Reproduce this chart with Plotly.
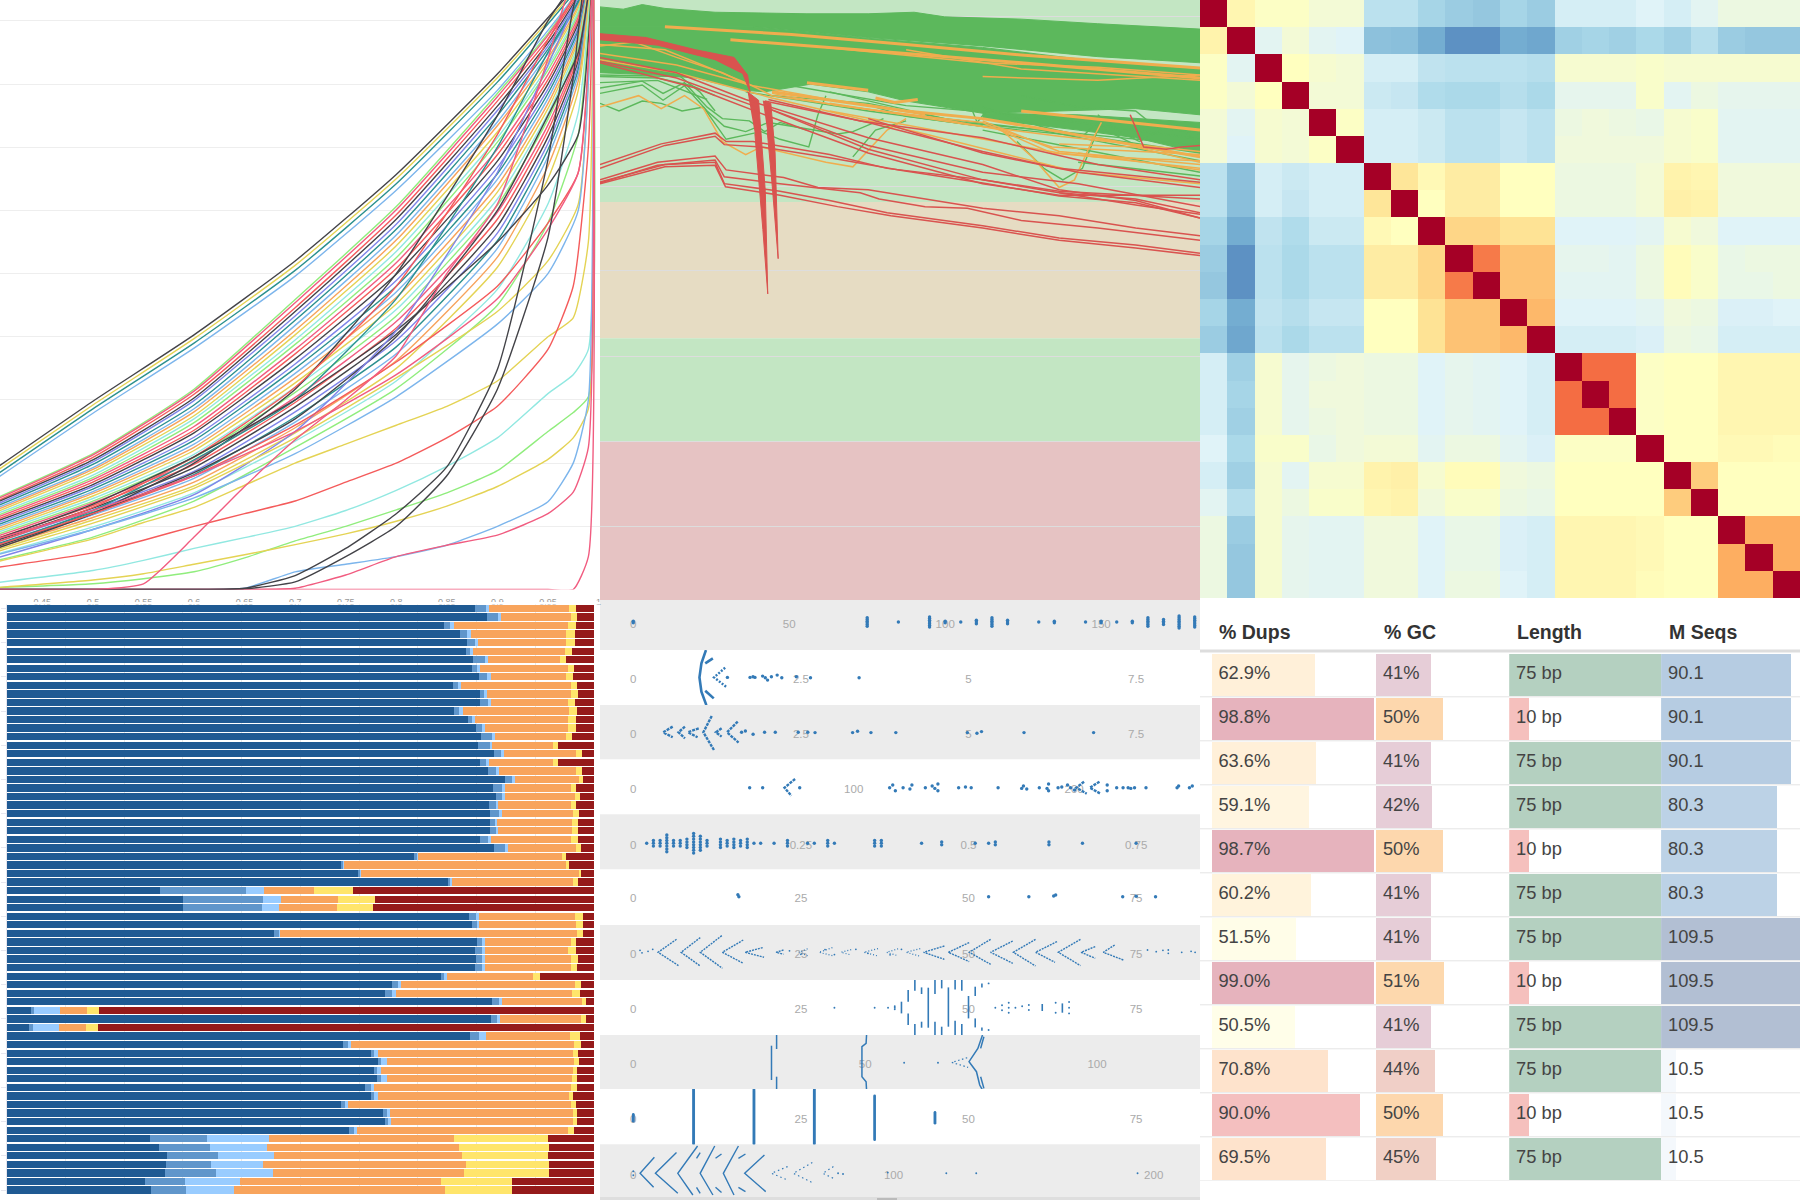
import numpy as np
import plotly.graph_objects as go

W, H = 1800, 1200
HC = ["#7cb5ec", "#434348", "#90ed7d", "#f7a35c", "#8085e9", "#f15c80", "#e4d354", "#2b908f", "#f45b5b", "#91e8e1"]

# ---------- panel 1: duplication curves ----------
curve_x = [0.405, 0.5, 0.6, 0.7, 0.8, 0.9, 0.95, 0.98, 0.995]
top_curves = [
    ("#434348", [19.3, 29.8, 40.3, 52, 65.7, 81.6, 90.5, 96, 100]),
    ("#e4d354", [18.8, 29.2, 39.7, 51.3, 65, 81, 90, 95.6, 100]),
    ("#2b908f", [18.2, 28.6, 39, 50.5, 64.2, 80.3, 89.5, 95.3, 100]),
    ("#7cb5ec", [17.6, 27.9, 38.2, 49.6, 63.2, 79, 88.5, 94.8, 100]),
]
bundle_curves = [
    [14.5, 21.5, 31.7, 45.9, 60.6, 78.5, 88, 95, 100], [14.3, 21.3, 31.4, 45.4, 60.1, 78, 87.7, 94.8, 100],
    [14.0, 20.9, 30.9, 44.6, 59.3, 77.3, 87.1, 94.4, 100], [13.8, 20.5, 30.3, 44, 58.6, 76.5, 86.5, 94, 100],
    [13.5, 20.2, 29.9, 43.3, 57.8, 75.8, 86, 93.7, 100], [13.2, 19.8, 29.2, 42.6, 57, 75, 85.5, 93.2, 100],
    [12.9, 19.3, 28.6, 41.8, 56.1, 74, 84.8, 92.8, 100], [12.6, 19, 28.1, 41, 55.3, 73.4, 84.1, 92.4, 100],
    [12.3, 18.6, 27.5, 40.3, 54.4, 72.4, 83.5, 92, 100], [12, 18.1, 27, 39.5, 53.5, 71.5, 82.8, 91.5, 100],
    [11.7, 17.7, 26.4, 38.8, 52.5, 70.8, 82.2, 91.1, 100], [11.4, 17.4, 25.8, 38, 51.7, 69.7, 81.5, 90.6, 100],
    [11.1, 17, 25.2, 37.3, 50.8, 68.8, 80.7, 90.1, 100], [10.8, 16.6, 24.8, 36.5, 49.9, 67.8, 80, 89.6, 100],
    [10.5, 16.3, 24.1, 35.7, 48.9, 66.8, 79.2, 89, 100], [10.2, 15.9, 23.6, 35, 48, 65.8, 78.5, 88.5, 100],
    [9.9, 15.5, 23, 34.2, 47.1, 64.9, 77.7, 88, 100], [9.6, 15.2, 22.5, 33.5, 46.2, 63.9, 76.9, 87.4, 100],
    [9.3, 14.8, 22, 32.7, 45.2, 62.9, 76.1, 86.9, 100], [9, 14.4, 21.4, 32, 44.3, 61.8, 75.3, 86.3, 100],
    [8.7, 14, 20.9, 31.2, 43.3, 60.8, 74.4, 85.7, 100], [8.4, 13.7, 20.3, 30.4, 42.4, 59.7, 73.5, 85, 100],
    [8.1, 13.3, 19.8, 29.6, 41.4, 58.6, 72.6, 84.4, 100], [7.8, 12.9, 19.3, 28.9, 40.4, 57.5, 71.6, 83.7, 100],
    [7.5, 12.6, 18.7, 28.1, 39.4, 56.4, 70.6, 83, 100], [7.2, 12.2, 18.2, 27.3, 38.4, 55.2, 69.6, 82.3, 100],
    [6.9, 11.8, 17.6, 26.5, 37.3, 54, 68.5, 81.5, 100], [6.6, 11.4, 17, 25.6, 36.2, 52.6, 67, 80.5, 100],
    [6.3, 11, 16.4, 24.8, 35, 51, 65, 79, 100], [5.6, 9.9, 15.3, 23.5, 33, 47.5, 61, 75.5, 100],
    [4.6, 8.3, 14, 22.5, 31.8, 45, 58, 72, 100],
]
cross_curves = [
    ("#434348", [6.5, 12, 20, 31.7, 50, 75, 90, 97, 100]), ("#2b908f", [7, 12.5, 20.5, 30, 46, 70, 85, 93, 100]),
    ("#f45b5b", [7.5, 13, 21, 32, 48, 72, 87, 95, 100]), ("#434348", [6.8, 12, 18.5, 27, 40, 60, 75, 85, 100]),
    ("#434348", [8, 13.5, 21, 30, 41, 55, 64, 72, 100]), ("#8085e9", [5, 9.5, 15, 25, 41, 66, 83, 94, 100]),
    ("#f45b5b", [7, 12, 18, 26, 36, 48, 58, 66, 100]), ("#e4d354", [6, 10.5, 16, 24, 33.5, 44, 52, 61, 100]),
    ("#7cb5ec", [5.5, 9.5, 14.5, 21.5, 30.5, 42, 50, 60, 100]), ("#f15c80", [8, 12.5, 18, 25, 34, 46, 57, 66, 100]),
]
low_x = [0.405, 0.5, 0.55, 0.6, 0.65, 0.7, 0.75, 0.8, 0.85, 0.9, 0.95, 0.975, 0.99, 0.995]
low_curves = [
    ("#e4d354", [4.4, 8, 10.6, 13, 16.5, 20, 23, 26, 29, 33, 40, 43, 55, 100]),
    ("#f45b5b", [3.5, 5.8, 7.8, 10, 12, 14, 17, 20, 24, 29, 38, 48, 70, 100]),
    ("#91e8e1", [1.1, 3, 4.6, 6.5, 8.2, 10, 12.5, 15.7, 19.5, 24, 31, 34, 38, 100]),
    ("#90ed7d", [0.3, 0.9, 1.7, 2.8, 5, 7.7, 10, 12.6, 15.3, 18.8, 25, 28, 30.5, 100]),
    ("#e4d354", [0.3, 1.5, 2.5, 4, 5.5, 7.1, 8.8, 10.8, 13.2, 16.3, 20.6, 24, 28.6, 100]),
    ("#7cb5ec", [0, 0, 0, 0, 0.2, 2.8, 4, 5.2, 7, 10, 13.9, 20, 30, 100]),
    ("#f15c80", [0, 0, 0, 0, 0, 0.2, 2.3, 5.2, 7, 8.6, 12, 15.4, 22.5, 100]),
    ("#f15c80", [0, 0, 0, 0, 0, 0, 0, 0, 0, 0, 0, 0, 5.2, 100]),
    ("#434348", [0, 0, 0, 0, 0.2, 2.2, 6.5, 12, 19.4, 34.8, 68, 92, 100, 100]),
    ("#434348", [0, 0, 0, 0, 0.1, 1.2, 5.2, 10, 18, 31.7, 55.7, 81, 100, 100]),
    ("#f15c80", [0, 0, 0.9, 8.3, 16.3, 23.7, 30, 37, 50, 61, 84, 97, 100, 100]),
]
curve_ticks = [0.45, 0.5, 0.55, 0.6, 0.65, 0.7, 0.75, 0.8, 0.85, 0.9, 0.95, 1]
curve_ticktext = ["0.45", "0.5", "0.55", "0.6", "0.65", "0.7", "0.75", "0.8", "0.85", "0.9", "0.95", "1"]

# ---------- panel 2: quality lines ----------
green_masses = [
    ([0, 3.8, 6.9, 10.6, 18.8, 33.8, 43.8, 51.3, 56.3, 68.8, 81.3, 98, 98, 81.3, 62.5, 43.8, 25, 0],
     [39.55, 39.4, 39.7, 39.45, 39.2, 39.1, 39.1, 39.2, 38.9, 38.75, 38.45, 38.1, 35.9, 36.3, 37, 37.55, 38.25, 38.25]),
    ([0, 25, 43.8, 62.5, 81.3, 98, 98, 87.5, 75, 62.5, 50, 43.8, 34.4, 26.9, 23.8, 15.6, 9.4, 0],
     [38.25, 38.25, 37.5, 36.9, 36, 35.5, 32.5, 32.9, 32.75, 32.6, 33.4, 34, 34.5, 34, 34.1, 34.9, 35.1, 35.25]),
    ([62.5, 78.1, 98, 98, 87.5, 78.1, 62.5], [32.6, 32.5, 32, 30, 31, 31.5, 32.25]),
]
green_lines = [
    ([0, 6.9, 10.3, 13.8, 17.5, 20, 24.4, 26.9, 29.4, 33.8], [34.25, 34.7, 33.9, 34.6, 33, 32.25, 32.1, 31.4, 32, 31.5]),
    ([0, 6.9, 10.3, 13.8, 17.5, 20.3, 23.8, 27.5, 31.3, 38.8, 41.3, 46.3], [33.9, 34.45, 33.45, 34.4, 32.75, 31.75, 31.4, 32, 31.75, 31.25, 31.4, 32.25]),
    ([0, 3.1, 6.9, 10, 13.4, 16.9, 20.6, 26.3, 29.4, 34.1, 35.6, 36.9], [33.25, 32.75, 33.4, 33.25, 32.75, 33, 30.9, 31.4, 30.9, 30.4, 32.5, 33.75]),
    ([0, 13.1, 16.3, 18.8], [35.1, 35, 34, 32.75]),
    ([41.3, 45, 50], [29.75, 31.5, 32.1]),
    ([68.1, 72.5, 75.6, 78.8, 81.3, 82.5], [30.75, 29, 28.25, 29, 31.5, 32.25]),
    ([60.6, 61.6, 63.1], [33, 32, 32.75]),
    ([81.3, 88.1, 98], [31.75, 30.4, 29.75]),
    ([0, 9.4, 17.5], [34.6, 34.75, 33.5]),
    ([62.5, 98], [31.5, 28.75]),
    ([78.1, 98], [29.4, 28.5]),
    ([23.8, 43.8, 62.5, 81.3, 98], [34, 32.75, 31.75, 31, 30]),
    ([28.1, 43.8, 59.4, 75, 98], [33.75, 33.25, 32, 31.4, 30.5]),
    ([31.3, 50, 68.8, 98], [34.4, 33.1, 32.5, 30.9]),
    ([37.5, 56.3, 71.9, 98], [34, 32.25, 31.5, 29.5]),
    ([45, 50, 62.5], [33, 32.4, 31.75]),
    ([68.8, 78.1, 87.5, 90.6, 98], [33.75, 33, 32.75, 31.75, 31.25]),
    ([81.3, 84.4, 88.1, 93.8, 98], [32.5, 31.5, 30.75, 32, 30.5]),
    ([62.5, 71.9, 78.8, 81.3], [33, 31.75, 31.1, 32]),
    ([0, 9.4, 15, 18.8], [35, 34.9, 34.4, 33.75]),
]
orange_lines_thick = [
    ([10.6, 31.3, 50, 68.8, 98], [38.25, 37.75, 37.1, 36.4, 35.55]),
    ([21.3, 35, 50, 68.8, 98], [37.4, 36.95, 36.5, 35.9, 34.9]),
    ([33.8, 43.8], [34.6, 34.1]),
    ([45, 48.1, 51.9], [33.6, 33.3, 33.5]),
    ([28.1, 50, 62.5, 75, 98], [34, 32.75, 32.25, 31.4, 29.75]),
    ([68.8, 98], [32.75, 31.5]),
]
orange_lines = [
    ([36.9, 62.5, 81.3, 98], [36.9, 35.9, 35.6, 35.1]),
    ([0, 10.6, 23.8, 28.1, 50, 62.5, 73.8, 81.3, 98], [37.1, 36.75, 34.6, 33.75, 32.5, 32, 30, 29.75, 29.5]),
    ([0, 12.5, 28.1, 53.1, 78.1, 98], [36.1, 35.25, 33.6, 31.25, 28.75, 28]),
    ([0, 6.3, 10, 13.8, 16.9, 20, 23.8, 26.3, 36.9, 41.3, 46.9, 50], [33, 33.75, 32.9, 33.75, 32.9, 30.75, 29.9, 30.4, 29.4, 29.1, 31.5, 32.25]),
    ([65.6, 70.6, 75, 77.5, 80.6, 81.9], [31.5, 29.75, 27.75, 28.25, 31, 32]),
    ([37.5, 75, 98], [32.75, 30, 29]),
    ([62.5, 75, 98], [32.1, 30.1, 29.25]),
    ([0, 12.5, 25, 37.5, 53.1], [36.5, 35.75, 34.4, 33.5, 32.5]),
    ([78.1, 98], [30, 28.9]),
    ([0, 5.6, 12.5, 20, 24.4], [37, 37.25, 36.25, 35.25, 34.4]),
    ([28.1, 38.8, 53.1, 65.6, 73.8, 98], [33.9, 33.1, 32.4, 31.5, 30.4, 29.9]),
    ([75, 87.5, 98], [30.6, 30.4, 29.4]),
    ([50, 68.8, 98], [36.75, 35.5, 34.75]),
    ([62.5, 81.3, 98], [35, 34.75, 35.1]),
    ([37.5, 59.4, 75, 98], [33.25, 31.9, 31.1, 30.1]),
]
red_lines = [
    ([0, 10, 18.8, 20.6, 25, 37.5, 46.9, 62.5, 75, 87.5, 98], [29.25, 30.6, 31.3, 30.75, 30.75, 29.9, 29, 28.25, 27.4, 27, 26.1]),
    ([0, 10.6, 18.8, 20.3, 26.3, 37.5, 48.8, 62.5, 75, 87.5, 98], [29, 30.5, 31.1, 30.55, 30.4, 29.7, 28.9, 28.05, 27.2, 26.75, 25.75]),
    ([0, 9.4, 18.8, 20.6, 30, 35.6, 43.8, 53.1, 62.5, 75, 87.5, 98], [28.25, 29.4, 29.8, 28.9, 28.4, 27.75, 27.6, 27, 26.4, 25.9, 25.1, 24.6]),
    ([0, 9.4, 18.8, 20.3, 29.4, 42.5, 45.6, 53.1, 60, 68.8, 81.3, 98], [28.05, 29.2, 29.55, 28.45, 28, 27.4, 27, 26.5, 26.4, 25.6, 25.1, 24.3]),
    ([0, 10.6, 18.8, 20.3, 29.4, 37.5, 46.9, 62.5, 75, 87.5, 98], [28.1, 29.25, 29.4, 28, 27.5, 26.9, 26.1, 25.25, 24.45, 24, 23.45]),
    ([0, 10.6, 18.8, 20.5, 29.4, 38.8, 47.5, 62.5, 75, 87.5, 98], [28, 29.1, 29.2, 27.8, 27.25, 26.5, 25.9, 25.1, 24.3, 23.8, 23.3]),
    ([0, 12.5, 23.8, 43.8, 62.5, 75, 87.5, 98], [36.25, 35.25, 33.5, 31, 29.25, 27.6, 26.9, 25.75]),
    ([0, 15.6, 26.9, 43.8, 62.5, 75, 98], [35.9, 34.25, 32.5, 30, 28, 27.25, 27.25]),
    ([27.5, 42.5, 62.5, 81.3, 98], [33.5, 32.1, 31, 29.25, 28.25]),
    ([26.9, 43.8, 62.5, 78.1, 98], [33, 30.5, 28.75, 28, 26.5]),
    ([43.8, 62.5, 78.1, 98], [32.25, 30, 28.75, 27.75]),
    ([86.6, 88.8, 92.5, 95, 98], [32.5, 30.4, 30.25, 30.4, 30.5]),
    ([26.9, 43.8, 62.5, 75, 98], [33.4, 32, 30.1, 29, 28.1]),
    ([27.5, 43.8, 62.5, 75, 98], [32.9, 30.25, 28.25, 27.5, 27]),
    ([0, 12.5, 25], [36, 34.9, 33.1]),
    ([75, 87.5, 98], [27.4, 26.6, 26]),
]
red_masses = [
    ([0, 7.5, 15.6, 21.9, 24.1, 24.5, 23.3, 18.8, 9.4, 0], [37.8, 37.55, 36.75, 36.25, 35.1, 34, 35.2, 36.1, 37.05, 37.4]),
    ([24.1, 25.9, 27, 27.4, 26.6, 25.3], [34, 33.45, 27.5, 20.8, 25, 31.25]),
    ([26.6, 27.9, 28.6, 29.1, 28.1, 27.3], [33.4, 33.25, 30, 23.1, 28, 31.5]),
]
quality_grid = [38.95, 27.83, 22.33, 16.73, 11.15, 5.63]
quality_bands = [(40, 26.8, "#c3e6c3"), (26.8, 17.9, "#e6dcc3"), (17.9, 11.125, "#c3e6c3"), (11.125, 0.8, "#e6c3c3")]

# ---------- panel 3: correlation heatmap ----------
corr = [
    [1, .53, .49, .49, .46, .46, .33, .33, .29, .27, .26, .29, .27, .38, .38, .38, .4, .38, .41, .44, .44, .44],
    [.54, 1, .41, .46, .41, .40, .245, .24, .2, .15, .15, .2, .19, .28, .29, .28, .3, .28, .32, .27, .26, .26],
    [.49, .41, 1, .5, .47, .46, .38, .38, .34, .33, .33, .33, .32, .47, .47, .47, .48, .47, .47, .47, .47, .47],
    [.49, .46, .5, 1, .46, .46, .36, .35, .31, .3, .3, .32, .3, .42, .42, .42, .48, .41, .44, .42, .42, .42],
    [.46, .41, .47, .46, 1, .49, .38, .38, .36, .33, .33, .35, .33, .44, .45, .44, .43, .47, .48, .41, .41, .41],
    [.46, .40, .47, .46, .49, 1, .38, .38, .36, .33, .33, .35, .33, .45, .45, .45, .45, .47, .48, .41, .41, .41],
    [.33, .245, .38, .36, .38, .38, 1, .58, .52, .56, .56, .5, .5, .44, .44, .44, .46, .54, .53, .45, .45, .45],
    [.33, .24, .38, .35, .38, .38, .58, 1, .5, .56, .56, .5, .5, .44, .44, .44, .46, .55, .54, .45, .45, .45],
    [.29, .2, .34, .31, .36, .36, .52, .5, 1, .62, .62, .59, .59, .4, .4, .4, .41, .47, .45, .4, .4, .4],
    [.27, .15, .33, .3, .33, .33, .56, .56, .62, 1, .78, .66, .66, .42, .42, .41, .44, .51, .48, .43, .44, .44],
    [.26, .15, .33, .3, .33, .33, .56, .56, .62, .78, 1, .66, .66, .41, .41, .41, .44, .51, .48, .43, .43, .44],
    [.29, .2, .34, .32, .35, .35, .5, .5, .59, .66, .66, 1, .68, .4, .4, .4, .41, .45, .44, .39, .39, .4],
    [.27, .19, .33, .3, .33, .33, .5, .5, .59, .66, .66, .68, 1, .38, .38, .38, .39, .44, .43, .38, .38, .38],
    [.38, .28, .47, .42, .44, .45, .44, .44, .4, .42, .41, .4, .38, 1, .8, .8, .49, .5, .5, .53, .53, .53],
    [.38, .29, .47, .42, .45, .45, .44, .44, .4, .42, .41, .4, .38, .8, 1, .8, .49, .5, .5, .53, .53, .53],
    [.38, .28, .47, .42, .44, .45, .44, .44, .4, .42, .41, .4, .38, .8, .8, 1, .49, .5, .5, .53, .53, .53],
    [.4, .3, .48, .48, .43, .45, .46, .46, .41, .44, .44, .41, .39, .49, .49, .49, 1, .5, .5, .52, .52, .51],
    [.38, .28, .47, .41, .47, .47, .54, .55, .47, .51, .51, .45, .44, .5, .5, .5, .5, 1, .64, .5, .5, .5],
    [.41, .32, .47, .44, .48, .48, .53, .54, .45, .48, .48, .44, .43, .5, .5, .5, .5, .64, 1, .5, .5, .5],
    [.44, .27, .47, .42, .41, .41, .45, .45, .4, .43, .43, .39, .38, .53, .53, .53, .52, .5, .5, 1, .7, .7],
    [.44, .26, .47, .42, .41, .41, .45, .45, .4, .43, .43, .39, .38, .53, .53, .53, .52, .5, .5, .7, 1, .7],
    [.44, .26, .47, .42, .41, .41, .45, .45, .4, .44, .44, .4, .38, .53, .53, .53, .51, .5, .5, .7, .7, 1],
]
rdylbu = [[0, "#313695"], [.1, "#4575b4"], [.2, "#74add1"], [.3, "#abd9e9"], [.4, "#e0f3f8"], [.5, "#ffffbf"],
          [.6, "#fee090"], [.7, "#fdae61"], [.8, "#f46d43"], [.9, "#d73027"], [1, "#a50026"]]

# ---------- panel 4: stacked percentage bars (running totals per sample) ----------
stack_names = ["Unique", "Dup low", "Dup mid", "Multi low", "Multi mid", "Unmapped"]
stack_colors = ["#1f5a93", "#6096cb", "#99ccff", "#f8a45c", "#ffe56b", "#951a1a"]
stack_totals = [
    [79.7, 81.6, 82.1, 95.8, 96.9], [81.8, 83.7, 84.2, 96.1, 97.1], [74.5, 75.5, 76.1, 95.5, 96.9], [77.2, 78.4, 79.1, 95.3, 96.8],
    [78.3, 79.7, 80.3, 95.3, 96.7], [78.2, 78.9, 79.4, 95.1, 96.2], [79.4, 81.4, 82.0, 94.2, 95.3], [79.2, 80.1, 80.6, 95.5, 96.6],
    [80.4, 81.8, 82.5, 95.3, 96.4], [76.0, 76.9, 77.4, 96.0, 97.1], [80.6, 81.3, 81.8, 96.1, 97.3], [80.6, 81.9, 82.5, 95.6, 96.7],
    [76.2, 77.1, 77.7, 95.8, 97.1], [78.6, 79.2, 79.7, 95.5, 96.9], [79.9, 80.9, 81.4, 95.6, 96.9], [80.7, 82.6, 83.1, 95.2, 96.2],
    [80.3, 82.3, 82.7, 93.0, 93.9], [82.9, 84.2, 84.7, 96.9, 97.9], [80.6, 81.6, 82.1, 93.0, 93.8], [82.0, 83.3, 83.8, 96.9, 97.9],
    [84.9, 86.1, 86.6, 97.5, 98.2], [82.8, 84.3, 84.8, 96.1, 96.9], [83.4, 84.4, 84.8, 96.7, 97.6], [82.1, 83.4, 83.7, 96.1, 96.9],
    [82.3, 83.8, 84.3, 96.5, 97.5], [82.3, 83.1, 83.5, 96.3, 97.3], [82.3, 83.3, 83.7, 96.3, 97.3], [80.6, 82.0, 82.5, 96.1, 97.3],
    [82.9, 84.8, 85.3, 96.9, 97.8], [69.4, 69.8, 70.0, 94.6, 95.2], [56.9, 57.2, 57.5, 95.2, 95.8], [59.8, 60.1, 60.3, 97.4, 97.8],
    [75.2, 75.5, 75.8, 96.5, 97.3], [26.1, 40.7, 43.8, 52.4, 58.9], [30.0, 43.6, 46.7, 56.4, 62.8], [30.1, 43.5, 46.4, 56.3, 62.4],
    [78.7, 79.9, 80.5, 96.7, 98.1], [79.2, 80.0, 80.5, 97.0, 98.1], [45.5, 46.3, 46.6, 97.1, 98.1], [80.1, 80.9, 81.4, 96.0, 96.9],
    [79.7, 80.9, 81.4, 95.6, 96.9], [79.9, 80.9, 81.4, 96.0, 97.3], [79.7, 80.9, 81.4, 96.0, 97.1], [73.9, 74.5, 74.9, 89.6, 90.8],
    [65.6, 66.6, 67.2, 96.8, 97.8], [64.5, 65.7, 66.3, 96.3, 97.6], [82.6, 83.9, 84.4, 98.0, 98.6], [4.2, 4.7, 9.1, 13.7, 15.8],
    [82.4, 83.5, 84.0, 97.8, 98.6], [3.9, 4.5, 8.9, 13.6, 15.6], [78.9, 80.5, 81.7, 95.9, 97.7], [57.2, 58.2, 58.6, 96.6, 97.8],
    [62.0, 62.6, 63.3, 96.4, 97.3], [63.3, 63.8, 64.7, 96.6, 97.5], [62.5, 63.1, 63.8, 96.4, 97.1], [63.1, 63.8, 64.7, 96.3, 97.1],
    [61.1, 62.1, 62.5, 96.1, 97.1], [62.0, 62.6, 63.2, 95.8, 96.4], [56.9, 57.7, 58.2, 96.0, 96.9], [64.1, 64.7, 65.3, 96.4, 97.1],
    [64.5, 65.0, 65.5, 96.4, 97.1], [58.3, 59.1, 59.7, 95.6, 96.6], [24.5, 34.1, 44.7, 76.1, 92.2], [26.0, 34.7, 44.3, 77.1, 92.4],
    [27.3, 36.0, 45.6, 77.5, 92.2], [27.2, 34.8, 43.6, 78.2, 92.4], [27.0, 35.6, 45.3, 77.9, 92.4], [23.6, 30.4, 39.7, 73.9, 86.1],
    [24.6, 30.5, 38.8, 74.7, 86.1],
]

# ---------- panel 5: beeswarm rows ----------
swarm_ticks = [
    ([0, 50, 100, 150], ["0", "50", "100", "150"], (-10.67, 181.7)),
    ([0, 2.5, 5, 7.5], ["0", "2.5", "5", "7.5"], (-0.4966, 8.453)),
    ([0, 2.5, 5, 7.5], ["0", "2.5", "5", "7.5"], (-0.4966, 8.453)),
    ([0, 100, 200], ["0", "100", "200"], (-15.1, 257.1)),
    ([0, 0.25, 0.5, 0.75], ["0", "0.25", "0.5", "0.75"], (-0.04966, 0.8453)),
    ([0, 25, 50, 75], ["0", "25", "50", "75"], (-4.966, 84.53)),
    ([0, 25, 50, 75], ["0", "25", "50", "75"], (-4.966, 84.53)),
    ([0, 25, 50, 75], ["0", "25", "50", "75"], (-4.966, 84.53)),
    ([0, 50, 100], ["0", "50", "100"], (-7.18, 122.2)),
    ([0, 25, 50, 75], ["0", "25", "50", "75"], (-4.966, 84.53)),
    ([0, 100, 200], ["0", "100", "200"], (-12.8, 217.8)),
]
row1_vals = [0, 75, 85, 95, 100, 105, 110, 115, 120, 130, 135, 145, 150, 155, 160, 165, 170, 175, 180]
row1_counts = [2, 6, 1, 7, 2, 1, 3, 6, 3, 1, 2, 1, 2, 1, 2, 6, 4, 8, 7]
row2_lines = [([1.084, 1.016, 0.987, 1.016, 1.09], [27.3, 14, 0, -14.3, -27.7]),
              ([1.187, 1.073], [19, 14]), ([1.073, 1.2], [-13.3, -21]), ([1.37, 1.204, 1.398], [9.7, 0, -10])]
row2_x = [1.404, 1.741, 1.786, 1.815, 1.929, 1.969, 2.003, 2.06, 2.146, 2.215, 2.432, 2.643, 3.368]
row2_y = [0, 0, 0.7, 0, 1.3, -0.3, -2.7, 0.7, 2.3, -0.3, 0.7, -0.3, -0.3]
row3_lines = [([1.17, 1.045, 1.203], [16.3, 0, -17.7]), ([1.558, 1.398, 1.57], [10.7, 0, -10.3]),
              ([1.318, 1.233, 1.318], [4, 0, -4.3]), ([0.976, 0.816, 0.959], [4, 0, -5]),
              ([0.77, 0.674, 0.77], [5.7, 0, -6]), ([0.588, 0.445, 0.588], [5.7, 0, -5])]
row3_x = [1.615, 1.672, 1.787, 1.958, 2.118, 2.46, 2.603, 2.711, 3.271, 3.345, 3.545, 3.916, 4.983, 5.126, 5.194, 5.828, 6.866]
row3_y = [0, 1.3, -2, 0, 0, 0, 0, -0.3, -0.3, 1, -0.3, -0.3, -0.3, -1, 0.7, -0.3, -0.3]
row4_lines = [([73.4, 68.6, 71.7], [8.7, 0, -8]), ([204.5, 201, 205.7], [6, 0, -6]), ([211.5, 207.1, 212], [6, 0, -6])]
row4_x = [52.8, 58.7, 75.5, 117.7, 116.3, 118.9, 122.4, 126.4, 125.5, 132.5, 135.6, 138.2, 138.2, 136.8, 147.6, 150.7, 153.3,
          165.5, 177, 176.2, 178.5, 184.2, 188.4, 187.7, 188.4, 192.7, 194.4, 197, 198.4, 200.2, 215, 215, 219.3, 222.2, 224.5,
          225.7, 227.4, 232.6, 246.7, 247.4, 252.3, 253.6]
row4_y = [0, 0, 0, 2.7, 0, -3, 0, 2.7, -1.3, 0, 1.7, 3.7, -3, -0.7, 0, 0.7, 0, 0, 1.7, -0.7, -1.3, 0, 3.7, -0.7, -3, 0, 0.7,
          2.7, 0, -2.3, 2.7, -3, 0, 0, 0, -0.7, 0, 0, 0, 1.7, 0, 1.7]
row5_vals = [.02, .03, .04, .05, .06, .07, .08, .09, .10, .11, .13, .14, .15, .16, .17, .18, .19, .21, .23, .26, .27, .29, .30,
             .36, .37, .43, .46, .51, .53, .54, .62, .67, .75]
row5_counts = [1, 3, 3, 7, 3, 3, 4, 8, 6, 3, 4, 3, 4, 3, 4, 1, 1, 1, 3, 1, 1, 3, 1, 3, 3, 1, 2, 1, 1, 2, 2, 1, 1]
row6_x = [15.75, 15.6, 53, 59, 62.7, 63, 73, 75, 77.9]
row6_y = [0, 2, 0, 0, 0.7, 1.7, 0, 0.5, 0]
row7_lines = [([6.45, 3.7, 6.74], [13, 0, -13.3]), ([9.99, 7.13, 9.99], [14.7, 0, -13.7]), ([13.2, 9.99, 13.3], [16.7, 0, -16]),
              ([16.4, 13.3, 16.4], [12.3, 0, -11]), ([19.3, 16.7, 19.5], [4.7, 0, -5]), ([22.4, 21.3, 22.4], [2.3, 0, -2]),
              ([26, 24.7, 26], [3.5, 0, -3.5]), ([29.7, 27.7, 29.9], [4.7, 0, -3.7]), ([32.5, 31, 32.5], [2.7, 0, -2.7]),
              ([36.5, 34.4, 36.5], [3.7, 0, -3.7]), ([39.5, 37.8, 39.5], [3.5, 0, -3.5]), ([42.8, 40.7, 42.8], [3.7, 0, -4]),
              ([46.4, 43.3, 46.4], [6.3, 0, -7]), ([50.1, 47, 50.1], [9.7, 0, -9.3]), ([53.3, 50.1, 53.3], [13, 0, -12]),
              ([56.6, 53.3, 56.6], [11.3, 0, -11]), ([60, 56.7, 60], [13, 0, -13.7]), ([63.2, 60, 62.9], [10.7, 0, -10]),
              ([66.7, 63.4, 66.7], [13, 0, -13.3]), ([68.9, 66.8, 68.9], [5.7, 0, -6]), ([71.8, 70.1, 73.1], [7.3, 0, -7.7])]
row7_x = [76.7, 78, 79, 79.8, 79.8, 81.8, 83.2, 83.8, 2.2, 1, 2.9, 1.3, 23.3, 25, 28.6, 30, 33.2, 35, 38.3, 40]
row7_y = [2.3, 0.6, 2, 2.3, -1, 0, 1, 0, 1, 2, 3, -0.5, 1.5, -2, 2.7, -2.3, 3, -1, -2.5, 3]
row8_segs_x = [40, 41, 41, 42, 42, 43, 43, 44, 45, 45, 46, 46, 47, 48, 48, 49, 49, 50, 51, 51, 52, 52, 61, 64]
row8_segs_lo = [-5.7, -17.3, 6, 17, -27.3, 13.7, -20, -20, 13.7, -27.3, 19.3, -27.3, -19, 18.3, -27.3, 17, -27.3, -10.7, 11.7, -19.7, 20.3, -23, -3.3, -5]
row8_segs_hi = [6, -5.7, 17.7, 27.7, -16.3, 20.3, -14, 20, 27.7, -14, 27.7, -19, 20.3, 27.7, -13, 27.7, -16.3, 11.7, 21, -10.7, 24.3, -19.7, 3.7, 4.3]
row8_x = [30, 36, 38, 39, 39, 39, 53, 53, 54, 55, 55, 56, 56, 56, 57, 58, 59, 59, 63, 63, 65, 65, 65]
row8_y = [0, 0, 0, 1.5, 0, -1.5, 24.3, -22.3, 0, 2.5, -2.5, 5, 0, -5, 0, 1.5, 2.7, -2.3, 5, -5, 5.7, 0, -5.7]
row9_lines = [([29.8, 29.8], [17, -17.3]), ([30.9, 30.9], [27.7, 13.7]), ([30.9, 30.9], [-14, -27.3]),
              ([50.3, 50.2, 49.3, 49.3, 50.2, 50.3], [27.7, 19.3, 16, -14, -19, -27.3]),
              ([75.3, 74.3, 72.4, 74, 74.7, 75.3], [27.7, 14.3, 1, -9, -22.3, -27.3]),
              ([75.6, 74.9], [26, 14.3]), ([74.9, 75.6], [-14, -25.7])]
row9_dash = [([72, 68.7, 72.2], [5, 0.3, -4.7])]
row9_x = [58.4, 65.7]
row9_y = [0, 0]
row10_vals = [0, 9, 18, 27, 36, 45]
row10_counts = [8, 60, 60, 60, 45, 12]
row11_lines = [([8.1, 2.6, 7.8], [16, 0, -14]), ([16.6, 8.5, 17.1], [20.7, 0, -20]), ([24.7, 17.1, 22.9], [27.3, 0, -21.7]),
               ([31.3, 25.7, 30.6], [27.3, 0, -21.7]), ([40.4, 34.6, 38.7], [27.3, 0, -21.7]), ([50.4, 42.8, 50.9], [18.3, 0, -18.3]),
               ([25.7, 24.3], [20.7, 15]), ([24.3, 25.7], [-14, -20]), ([33.9, 31.6], [19.3, 15]), ([31.6, 33.9], [-14, -19.3]),
               ([43.1, 40.4], [19.3, 15]), ([40.4, 43.1], [-14, -18.3])]
row11_dash = [([59.3, 53.1, 59.3], [6.7, 0, -6.7]), ([68.8, 61.5, 68.8], [10.7, 0, -9.3]), ([76.9, 72.8, 76.9], [6.7, 0, -5])]
row11_x = [0, 0, 78.7, 80.6, 97.8, 120.3, 131.8, 193.8]
row11_y = [2, -2, 0, -0.7, 0.7, 0, 0, 0]

# ---------- panel 6: table ----------
pct_dups = [62.9, 98.8, 63.6, 59.1, 98.7, 60.2, 51.5, 99.0, 50.5, 70.8, 90.0, 69.5]
pct_gc = [41, 50, 41, 42, 50, 41, 41, 51, 41, 44, 50, 45]
read_len = [75, 10, 75, 75, 10, 75, 75, 10, 75, 75, 10, 75]
m_seqs = [90.1, 90.1, 90.1, 80.3, 80.3, 80.3, 109.5, 109.5, 109.5, 10.5, 10.5, 10.5]
dups_colors = ["#fff0d9", "#e6b3bd", "#fff0d9", "#fff5e0", "#e6b3bd", "#fff3dc", "#fffde8", "#e6b3bd", "#fffee9", "#fee3cc", "#f4bfbf", "#fee3cc"]
gc_colors = ["#e6cdd7", "#fdd7ad", "#e6cdd7", "#e6cdd7", "#fdd7ad", "#e6cdd7", "#e6cdd7", "#fdd8ad", "#e6cdd7", "#f0cfc7", "#fdd7ad", "#f1d0c5"]
len_colors = ["#b4d0c0", "#f5c0bd", "#b4d0c0", "#b4d0c0", "#f5c0bd", "#b4d0c0", "#b4d0c0", "#f5c0bd", "#b4d0c0", "#b4d0c0", "#f5c0bd", "#b4d0c0"]
seq_colors = ["#b6cce2"] * 3 + ["#bcd2e6"] * 3 + ["#b2bfd3"] * 3 + ["#f4f8fc"] * 3
table_headers = ["% Dups", "% GC", "Length", "M Seqs"]


def hdom(a, b):
    return [a / W, b / W]


def vdom(a, b):
    return [1 - b / H, 1 - a / H]


BLANK = dict(showgrid=False, zeroline=False, showticklabels=False, ticks="", showline=False, fixedrange=True)
layout = {}
fig = go.Figure()

# panel 1
layout["xaxis"] = dict(BLANK, domain=hdom(0, 600), range=[0.4081, 1.0015], tickvals=curve_ticks, ticktext=curve_ticktext,
                       showticklabels=True, ticks="outside", ticklen=4, tickcolor="rgba(0,0,0,0)",
                       tickfont=dict(family="Liberation Sans", size=9, color="#999999"), anchor="y")
layout["yaxis"] = dict(BLANK, domain=vdom(0, 589.5), range=[0, 93.3], showgrid=True, gridcolor="#eeeeee", gridwidth=1,
                       tickvals=[10, 20, 30, 40, 50, 60, 70, 80, 90], anchor="x")


def curve(xs, ys, color):
    fig.add_trace(go.Scatter(x=xs, y=ys, mode="lines", line=dict(color=color, width=1.4, shape="spline", smoothing=0.5),
                             xaxis="x", yaxis="y", showlegend=False, hoverinfo="skip"))


for i, ys in enumerate(bundle_curves):
    curve(curve_x, ys, HC[(i * 3 + 2) % 10])
for col, ys in top_curves:
    curve(curve_x, ys, col)
for col, ys in cross_curves:
    curve(curve_x, ys, col)
for col, ys in low_curves:
    curve(low_x, ys, col)

# panel 2
layout["xaxis2"] = dict(BLANK, domain=hdom(600, 1200), range=[0, 98], anchor="y2")
layout["yaxis2"] = dict(BLANK, domain=vdom(0, 600), range=[0.8, 40], showgrid=True, gridcolor="#dddddd", gridwidth=1,
                        tickvals=quality_grid, anchor="x2")
shapes = []
for y1, y0, c in quality_bands:
    shapes.append(dict(type="rect", xref="x2", yref="y2", x0=0, x1=98, y0=y0, y1=y1, fillcolor=c, line_width=0, layer="below"))


def masses(polys, color):
    for xs, ys in polys:
        fig.add_trace(go.Scatter(x=xs, y=ys, mode="lines", fill="toself", fillcolor=color, line=dict(color=color, width=1),
                                 xaxis="x2", yaxis="y2", showlegend=False, hoverinfo="skip"))


def qlines(lines, color, width):
    for xs, ys in lines:
        fig.add_trace(go.Scatter(x=xs, y=ys, mode="lines", line=dict(color=color, width=width),
                                 xaxis="x2", yaxis="y2", showlegend=False, hoverinfo="skip"))


masses(green_masses, "#5cb85c")
qlines(green_lines, "#5cb85c", 1.4)
qlines(orange_lines_thick, "#f0ad4e", 3)
qlines(orange_lines, "#f0ad4e", 1.5)
masses(red_masses, "#d9534f")
qlines(red_lines, "#d9534f", 1.5)

# panel 3
layout["xaxis3"] = dict(BLANK, domain=hdom(1200, 1800), range=[-0.5, 21.5], anchor="y3")
layout["yaxis3"] = dict(BLANK, domain=vdom(0, 598), range=[21.5, -0.5], anchor="x3")
fig.add_trace(go.Heatmap(z=corr, xaxis="x3", yaxis="y3", colorscale=rdylbu, zmin=0, zmax=1, showscale=False, hoverinfo="skip"))

# panel 4
layout["xaxis4"] = dict(BLANK, domain=hdom(6.5, 594), range=[0, 100], showgrid=True, gridcolor="#e8e8e8", dtick=10, anchor="y4")
layout["yaxis4"] = dict(BLANK, domain=vdom(604.1, 1194.3), range=[68.5, -0.5], anchor="x4", showline=True, linecolor="#e6e6ee",
                        ticks="outside", ticklen=5, tickcolor="#e6e6ee", tickvals=list(range(0, 69, 4)))
totals = np.array(stack_totals)
edges = np.column_stack([np.zeros(len(totals)), totals, np.full(len(totals), 100.0)])
widths = np.diff(edges, axis=1)
rows = list(range(len(totals)))
for j, (nm, c) in enumerate(zip(stack_names, stack_colors)):
    fig.add_trace(go.Bar(x=widths[:, j], y=rows, orientation="h", name=nm, width=0.85, marker=dict(color=c, line_width=0),
                         xaxis="x4", yaxis="y4", showlegend=False, hoverinfo="skip"))

# panel 5
row_bands = [(600, 650), (650, 705), (705, 759.3), (759.3, 814.3), (814.3, 869.3), (869.3, 925), (925, 980), (980, 1035), (1035, 1089), (1089, 1144.3), (1144.3, 1197)]
row_centres = [622, 677.4, 732.3, 787.7, 843.3, 896.7, 952.3, 1007.7, 1062.7, 1117.7, 1173.3]
BLUE = "#337ab7"
for k in range(11):
    ax = k + 5
    a, b = row_bands[k]
    c = row_centres[k]
    tv, tt, rng = swarm_ticks[k]
    layout[f"xaxis{ax}"] = dict(BLANK, domain=hdom(600, 1200), range=list(rng), tickvals=tv, ticktext=tt, showticklabels=True, ticklen=0,
                                tickfont=dict(family="Liberation Sans", size=11.5, color="#aaaaaa"), anchor="free",
                                position=1 - (c - 7) / H, layer="below traces")
    layout[f"yaxis{ax}"] = dict(BLANK, domain=vdom(a, b), range=[c - b, c - a], anchor="free", position=600 / W)
    if k % 2 == 0:
        shapes.append(dict(type="rect", xref="paper", yref="paper", x0=600 / W, x1=1200 / W, y0=1 - b / H, y1=1 - a / H,
                           fillcolor="#ececec", line_width=0, layer="below"))


def dots(k, xs, ys, size):
    fig.add_trace(go.Scatter(x=xs, y=ys, mode="markers", marker=dict(color=BLUE, size=size), xaxis=f"x{k+5}", yaxis=f"y{k+5}",
                             showlegend=False, hoverinfo="skip"))


def stacks(k, vals, counts, step, size):
    xs, ys = [], []
    for v, n in zip(vals, counts):
        for m in range(n):
            xs.append(v)
            ys.append((m - (n - 1) / 2) * step)
    dots(k, xs, ys, size)


def polylines(k, lines, width, dash="solid"):
    xs, ys = [], []
    for a, b in lines:
        xs += list(a) + [None]
        ys += list(b) + [None]
    fig.add_trace(go.Scatter(x=xs, y=ys, mode="lines", line=dict(color=BLUE, width=width, dash=dash), xaxis=f"x{k+5}", yaxis=f"y{k+5}",
                             showlegend=False, hoverinfo="skip"))


stacks(0, row1_vals, row1_counts, 1.7, 3.4)
polylines(1, row2_lines[:1], 2.6)
polylines(1, row2_lines[1:3], 2.6)
polylines(1, row2_lines[3:], 2.4, "2px,1.5px")
dots(1, row2_x, row2_y, 3.4)
polylines(2, row3_lines, 2.4, "3px,1px")
dots(2, row3_x, row3_y, 3.4)
polylines(3, row4_lines, 2.4, "3px,1px")
dots(3, row4_x, row4_y, 3.4)
stacks(4, row5_vals, row5_counts, 2.8, 3.4)
dots(5, row6_x, row6_y, 3.4)
polylines(6, row7_lines[:6], 1.4, "2px,1px")
polylines(6, row7_lines[6:12], 1.2, "1px,2px")
polylines(6, row7_lines[12:], 1.4, "2px,1px")
dots(6, row7_x, row7_y, 1.8)
polylines(7, [([x, x], [lo, hi]) for x, lo, hi in zip(row8_segs_x, row8_segs_lo, row8_segs_hi)], 1.6)
dots(7, row8_x, row8_y, 1.9)
polylines(8, row9_lines, 1.5)
polylines(8, row9_dash, 1.2, "1.5px,2.5px")
dots(8, row9_x, row9_y, 1.9)
stacks(9, row10_vals, row10_counts, 1, 2.6)
polylines(10, row11_lines, 1.4)
polylines(10, row11_dash, 1.2, "1.5px,3px")
dots(10, row11_x, row11_y, 1.9)
shapes.append(dict(type="rect", xref="paper", yref="paper", x0=600 / W, x1=1200 / W, y0=0, y1=3 / H, fillcolor="#dedede", line_width=0, layer="below"))
shapes.append(dict(type="rect", xref="paper", yref="paper", x0=877 / W, x1=897 / W, y0=0, y1=2 / H, fillcolor="#bbbbbb", line_width=0, layer="below"))

# panel 6
table_cols = [
    (16, 1211.5, 1376, [0, 100], pct_dups, dups_colors, [f"{v:.1f}%" for v in pct_dups], 4.2),
    (17, 1376, 1509.2, [0, 100], pct_gc, gc_colors, [f"{v}%" for v in pct_gc], 5.2),
    (18, 1509.2, 1661.1, [0, 75], read_len, len_colors, [f"{v} bp" for v in read_len], 3.4),
    (19, 1661.1, 1800, [0, 96.3], m_seqs, seq_colors, [f"{v}" for v in m_seqs], 4.8),
]
table_top, table_bot = 652.8, 1180.8
trows = list(range(12))
for ax, a, b, rng, vals, cols, txt, off in table_cols:
    layout[f"xaxis{ax}"] = dict(BLANK, domain=hdom(a, b), range=rng, anchor=f"y{ax}")
    layout[f"yaxis{ax}"] = dict(BLANK, domain=vdom(table_top, table_bot), range=[11.5, -0.5], anchor=f"x{ax}")
    fig.add_trace(go.Bar(x=vals, y=trows, orientation="h", width=0.955, marker=dict(color=cols, line_width=0), xaxis=f"x{ax}", yaxis=f"y{ax}",
                         showlegend=False, hoverinfo="skip"))
    fig.add_trace(go.Scatter(x=[off] * 12, y=trows, mode="text", text=txt, textposition="middle right",
                             textfont=dict(family="Liberation Sans", size=18.3, color="#444444"), xaxis=f"x{ax}", yaxis=f"y{ax}",
                             cliponaxis=False, showlegend=False, hoverinfo="skip"))
for e in range(12):
    shapes.append(dict(type="line", xref="paper", yref="y16", x0=1200 / W, x1=1, y0=e + 0.5, y1=e + 0.5, line=dict(color="#e4e4e4", width=1), layer="below"))
shapes.append(dict(type="line", xref="paper", yref="paper", x0=1200 / W, x1=1, y0=1 - 651 / H, y1=1 - 651 / H, line=dict(color="#dddddd", width=3), layer="below"))
annotations = []
for t, px in zip(table_headers, [1217, 1382, 1515, 1667]):
    annotations.append(dict(text=f"<b>{t}</b>", xref="paper", yref="paper", x=px / W, y=1 - 631.5 / H, xanchor="left", yanchor="middle",
                            showarrow=False, font=dict(family="Liberation Sans", size=19.5, color="#333333")))

# white strip trimming the curve panel's tick labels, as in the montage
shapes.append(dict(type="rect", xref="paper", yref="paper", x0=0, x1=600 / W, y0=1 - 604.5 / H, y1=1 - 602 / H, fillcolor="white", line_width=0, layer="above"))

fig.update_layout(width=W, height=H, autosize=False, margin=dict(l=0, r=0, t=0, b=0, pad=0), paper_bgcolor="white", plot_bgcolor="rgba(0,0,0,0)",
                  barmode="stack", showlegend=False, shapes=shapes, annotations=annotations, **layout)
fig.write_html("out.html", config={"displayModeBar": False}, post_script="document.body.style.margin='0';document.body.style.padding='0';")
